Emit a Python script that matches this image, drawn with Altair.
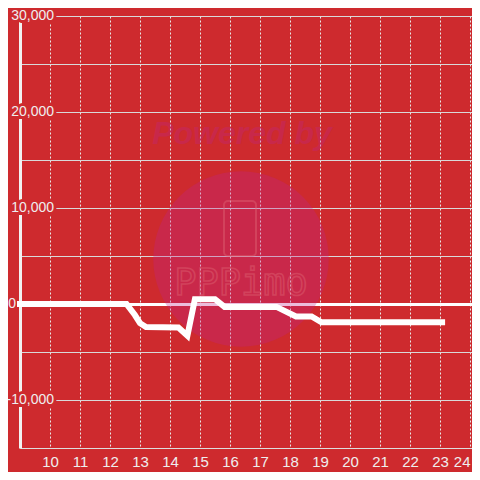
import altair as alt
import pandas as pd

# ---- data ----
hours = [9.0, 12.55, 12.83, 13.0, 13.2, 14.28, 14.58, 14.83, 15.5, 15.82, 17.55, 18.2, 18.72, 19.05, 23.07]
values = [0, 0, -1150, -2000, -2400, -2450, -3300, 500, 500, -300, -300, -1300, -1300, -1900, -1900]

x_ticks = list(range(10, 25))
y_grid = list(range(-15000, 30001, 5000))
y_label_values = [30000, 20000, 10000, -10000]
y_label_texts = ["30,000", "20,000", "10,000", "-10,000"]
zero_label = ["0"]

BG = "#CE2A2E"
FONT = "Liberation Sans"
LABEL = "#eeeeee"

line_df = pd.DataFrame({"h": hours, "v": values})
ylab_df = pd.DataFrame({"v": y_label_values, "t": y_label_texts})
zero_df = pd.DataFrame({"v": [0], "t": zero_label})

xscale = alt.Scale(domain=[9, 24.0667], nice=False, zero=False)
yscale = alt.Scale(domain=[-15000, 30000], nice=False, zero=False)

xaxis = alt.Axis(values=x_ticks, format="d", labelFont=FONT, labelFontSize=15,
                 labelColor=LABEL, tickSize=0, labelPadding=13, labelBaseline="middle",
                 domainColor="#dddddd", domainWidth=1, grid=True, gridColor="#e8e8e8",
                 gridDash=[2, 2], gridWidth=1, labelFlush=3, title=None)
yaxis = alt.Axis(values=y_grid, labels=False, ticks=False, domainColor="#f2f2f2",
                 domainWidth=3, grid=True, title=None,
                 gridColor={"condition": {"test": "datum.value === 0", "value": "#ffffff"}, "value": "#d9d9d9"},
                 gridWidth={"condition": {"test": "datum.value === 0", "value": 3}, "value": 1})

line = alt.Chart(line_df).mark_line(color="white", strokeWidth=6, strokeCap="square", clip=False).encode(
    x=alt.X("h:Q", scale=xscale, axis=xaxis),
    y=alt.Y("v:Q", scale=yscale, axis=yaxis),
)

# watermark (decorative)
WM = "#bd258b"
WL = "#e06a78"
wm_circle = alt.Chart(pd.DataFrame({"a": [0]})).mark_circle(
    size=30790, color=WM, opacity=0.3).encode(x=alt.value(221), y=alt.value(243))
wm_text = alt.Chart(pd.DataFrame({"a": ["Powered by"]})).mark_text(
    font=FONT, fontSize=32, fontWeight="bold", fontStyle="italic", color=WM, opacity=0.3,
    align="center", baseline="middle").encode(text="a:N", x=alt.value(222), y=alt.value(118))
wm_phone = alt.Chart(pd.DataFrame({"a": [0]})).mark_rect(
    fill=None, stroke=WL, strokeWidth=2, opacity=0.4, cornerRadius=4).encode(
    x=alt.value(204), x2=alt.value(236), y=alt.value(185), y2=alt.value(240))
wm_logo = alt.Chart(pd.DataFrame({"a": ["PPPimo"]})).mark_text(
    font="DejaVu Sans Mono", fontSize=37, fill=None, stroke=WL, strokeWidth=1.6, opacity=0.4,
    align="center", baseline="middle").encode(text="a:N", x=alt.value(221), y=alt.value(268))

halo = alt.Chart(ylab_df).mark_text(
    font=FONT, fontSize=14, align="right", baseline="middle", fill=BG, stroke=BG, strokeWidth=6).encode(
    text="t:N", x=alt.value(34), y=alt.Y("v:Q", scale=yscale, axis=yaxis))
labels = alt.Chart(ylab_df).mark_text(
    font=FONT, fontSize=14, align="right", baseline="middle", color=LABEL).encode(
    text="t:N", x=alt.value(34), y=alt.Y("v:Q", scale=yscale, axis=yaxis))
zero_lab = alt.Chart(zero_df).mark_text(
    font=FONT, fontSize=14, align="right", baseline="middle", color=LABEL).encode(
    text="t:N", x=alt.value(-4), y=alt.Y("v:Q", scale=yscale, axis=yaxis))

chart = alt.layer(wm_circle, wm_text, wm_phone, wm_logo, line, halo, labels, zero_lab).properties(
    width=452, height=432, background=BG,
    padding={"left": 12, "top": 8, "right": 0, "bottom": 24},
    autosize="none",
).configure_view(stroke=None)

chart.save("out.html", embed_options={"renderer": "svg", "actions": False})
